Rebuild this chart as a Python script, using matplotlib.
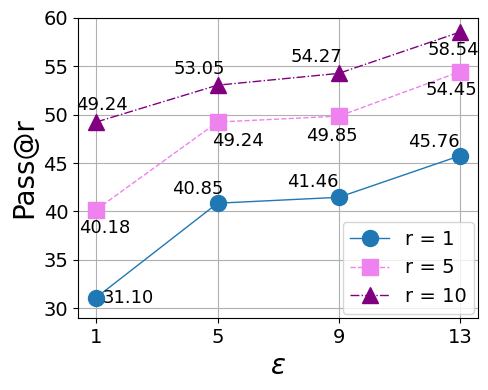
import matplotlib
matplotlib.use("Agg")
import matplotlib.pyplot as plt

eps = [1, 5, 9, 13]
r1 = [31.10, 40.85, 41.46, 45.76]
r5 = [40.18, 49.24, 49.85, 54.45]
r10 = [49.24, 53.05, 54.27, 58.54]

fig, ax = plt.subplots(figsize=(4.88, 3.9), dpi=100)
fig.subplots_adjust(left=0.16, right=0.98, top=0.954, bottom=0.185)

ax.plot(eps, r1, "-", marker="o", color="tab:blue", markersize=11.5, linewidth=1, label="r = 1")
ax.plot(eps, r5, "--", marker="s", color="violet", markersize=11.5, linewidth=1, label="r = 5")
ax.plot(eps, r10, "-.", marker="^", color="purple", markersize=11.5, linewidth=1, label="r = 10")

# label offsets (points) per series
off1 = [(23, 0), (-14, 10), (-19, 11), (-19, 10)]
off5 = [(6, -13), (15, -14), (-5, -14), (-6, -13)]
off10 = [(4, 12), (-13, 12), (-16, 12), (-5, -13)]
for vals, offs in [(r1, off1), (r5, off5), (r10, off10)]:
    for x, y, o in zip(eps, vals, offs):
        ax.annotate(f"{y:.2f}", (x, y), xytext=o, textcoords="offset points",
                    ha="center", va="center", fontsize=13)

ax.set_xticks(eps)
ax.set_ylim(29, 60)
ax.tick_params(labelsize=14)
ax.set_xlabel(r"$\epsilon$", fontsize=20)
ax.set_ylabel("Pass@r", fontsize=20)
ax.grid(True)
ax.legend(loc="lower right", fontsize=14, borderaxespad=0.2)

plt.savefig("out.png")
